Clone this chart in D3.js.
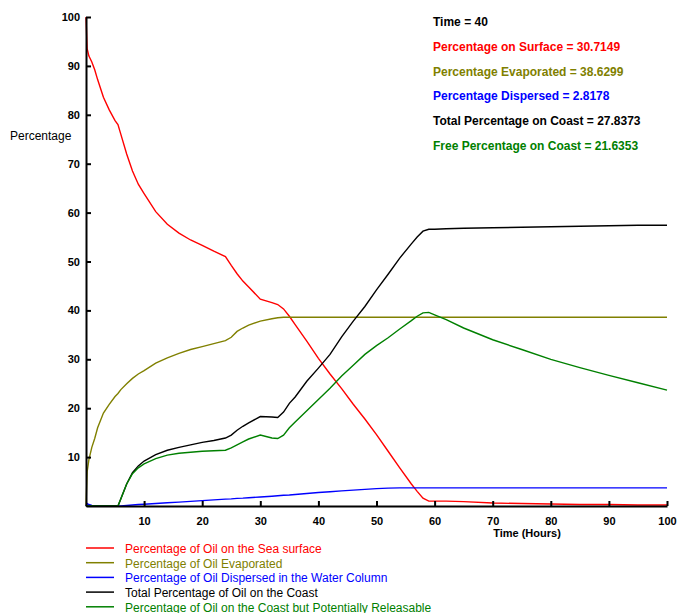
<!DOCTYPE html>
<html>
<head>
<meta charset="utf-8">
<script src="https://cdn.jsdelivr.net/npm/d3@7"></script>
<style>
  body { margin: 0; background: #fff; }
  svg { display: block; font-family: "Liberation Sans", Arial, sans-serif; }
</style>
</head>
<body>
<script>
// time grid (hours) shared by every series
var hours = [0, 0.2, 0.5, 1, 1.5, 2, 3, 4, 5, 5.5, 6, 7, 8, 9, 10, 12, 14, 16, 18, 20, 22, 24, 25, 26, 27, 28, 30, 32, 33, 34, 35, 36, 38, 40, 42, 44, 46, 48, 50, 52, 54, 56, 57, 58, 59, 60, 62, 65, 70, 75, 80, 85, 90, 95, 100];

var surface = [100, 93.5, 92, 90.8, 89.2, 87.2, 83.6, 81, 78.8, 78, 76, 72, 68.5, 65.8, 63.9, 60.2, 57.6, 55.8, 54.4, 53.3, 52.1, 51, 49.2, 47.5, 46, 44.8, 42.3, 41.6, 41.2, 40.3, 38.8, 37.1, 33.7, 30.2, 27, 24, 20.8, 17.8, 14.6, 11.2, 7.8, 4.5, 3, 1.6, 1, 1, 1, 0.9, 0.6, 0.5, 0.4, 0.3, 0.3, 0.2, 0.2];

var evaporated = [0, 7, 9.5, 12, 13.8, 16, 19, 20.8, 22.4, 23, 23.8, 25, 26.1, 27, 27.7, 29.2, 30.3, 31.2, 32, 32.6, 33.2, 33.8, 34.5, 35.7, 36.4, 37, 37.8, 38.3, 38.5, 38.6, 38.6, 38.6, 38.6, 38.6, 38.6, 38.6, 38.6, 38.6, 38.6, 38.6, 38.6, 38.6, 38.6, 38.6, 38.6, 38.6, 38.6, 38.6, 38.6, 38.6, 38.6, 38.6, 38.6, 38.6, 38.6];

var dispersed = [0, 0.5, 0.3, 0.1, 0, 0, 0, 0, 0, 0, 0, 0.1, 0.2, 0.3, 0.35, 0.5, 0.65, 0.8, 0.95, 1.1, 1.25, 1.4, 1.45, 1.55, 1.6, 1.7, 1.85, 2, 2.1, 2.2, 2.25, 2.35, 2.55, 2.75, 2.9, 3.1, 3.25, 3.4, 3.55, 3.65, 3.7, 3.7, 3.7, 3.7, 3.7, 3.7, 3.7, 3.7, 3.7, 3.7, 3.7, 3.7, 3.7, 3.7, 3.7];

var coastTotal = [0, 0, 0, 0, 0, 0, 0, 0, 0, 0, 1.5, 4.5, 6.8, 8.2, 9.2, 10.5, 11.4, 12, 12.5, 13, 13.4, 13.9, 14.5, 15.5, 16.3, 17, 18.3, 18.2, 18.1, 19.2, 21, 22.3, 25.5, 28.2, 31, 34.6, 37.8, 40.8, 44.2, 47.4, 50.7, 53.6, 55, 56.2, 56.6, 56.6, 56.7, 56.8, 56.9, 57, 57.1, 57.2, 57.3, 57.4, 57.4];

var coastFree = [0, 0, 0, 0, 0, 0, 0, 0, 0, 0, 1.5, 4.5, 6.6, 7.8, 8.6, 9.7, 10.4, 10.8, 11, 11.2, 11.3, 11.4, 11.9, 12.5, 13.1, 13.7, 14.5, 13.9, 13.8, 14.5, 16, 17.2, 19.5, 21.8, 24.1, 26.6, 28.8, 31, 32.8, 34.4, 36.2, 37.9, 38.8, 39.5, 39.6, 39.1, 38.1, 36.4, 34, 32, 30, 28.3, 26.7, 25.2, 23.7];

var seriesNames = [
  "Percentage of Oil on the Sea surface",
  "Percentage of Oil Evaporated",
  "Percentage of Oil Dispersed in the Water Column",
  "Total Percentage of Oil on the Coast",
  "Percentage of Oil on the Coast but Potentially Releasable"
];
var seriesColors = ["#ff0000", "#808000", "#0000ff", "#000000", "#008000"];

var statusLines = [
  "Time = 40",
  "Percentage on Surface = 30.7149",
  "Percentage Evaporated = 38.6299",
  "Percentage Dispersed = 2.8178",
  "Total Percentage on Coast = 27.8373",
  "Free Percentage on Coast = 21.6353"
];
var statusColors = ["#000000", "#ff0000", "#808000", "#0000ff", "#000000", "#008000"];

var xTicks = [10, 20, 30, 40, 50, 60, 70, 80, 90, 100];
var yTicks = [10, 20, 30, 40, 50, 60, 70, 80, 90, 100];

var W = 678, H = 613;
var allSeries = [surface, evaporated, dispersed, coastTotal, coastFree];

var svg = d3.select("body").append("svg")
  .attr("width", W)
  .attr("height", H);

var x = d3.scaleLinear().domain([0, 100]).range([86, 667]);
var y = d3.scaleLinear().domain([0, 100]).range([506, 17]);

// series lines
var line = d3.line()
  .x((d, i) => x(hours[i]))
  .y(d => y(d));

svg.append("g")
  .selectAll("path")
  .data(allSeries)
  .join("path")
    .attr("fill", "none")
    .attr("stroke", (d, i) => seriesColors[i])
    .attr("stroke-width", 1.4)
    .attr("d", line);

// axes
var xAxis = svg.append("g")
  .attr("transform", "translate(0," + y(0) + ")")
  .call(d3.axisBottom(x).tickValues(xTicks).tickSizeInner(-5).tickSizeOuter(0).tickPadding(11));

var yAxis = svg.append("g")
  .attr("transform", "translate(" + x(0) + ",0)")
  .call(d3.axisLeft(y).tickValues(yTicks).tickSizeInner(-5).tickSizeOuter(0).tickPadding(6));

[xAxis, yAxis].forEach(function(a) {
  a.select(".domain").attr("stroke", "#000").attr("stroke-width", 2);
  a.selectAll(".tick line").attr("stroke", "#000").attr("stroke-width", 2);
  a.selectAll(".tick text")
    .attr("fill", "#000")
    .style("font-size", "11px")
    .style("font-weight", "bold")
    .style("font-family", "'Liberation Sans', Arial, sans-serif");
});

svg.append("text")
  .attr("x", 527)
  .attr("y", 537)
  .attr("text-anchor", "middle")
  .style("font-size", "11px")
  .style("font-weight", "bold")
  .text("Time (Hours)");

svg.append("text")
  .attr("x", 10)
  .attr("y", 140)
  .style("font-size", "12px")
  .text("Percentage");

// status text top right
svg.append("g")
  .selectAll("text")
  .data(statusLines)
  .join("text")
    .attr("x", 433)
    .attr("y", (d, i) => 26 + i * 24.8)
    .attr("fill", (d, i) => statusColors[i])
    .style("font-size", "12px")
    .style("font-weight", "bold")
    .text(d => d);

// legend
var legend = svg.append("g")
  .selectAll("g")
  .data(seriesNames)
  .join("g")
    .attr("transform", (d, i) => "translate(0," + (548 + i * 14.7) + ")");

legend.append("line")
  .attr("x1", 86).attr("x2", 114)
  .attr("stroke", (d, i) => seriesColors[i])
  .attr("stroke-width", 1.5);

legend.append("text")
  .attr("x", 125)
  .attr("y", 5)
  .attr("fill", (d, i) => seriesColors[i])
  .style("font-size", "12px")
  .text(d => d);
</script>
</body>
</html>
